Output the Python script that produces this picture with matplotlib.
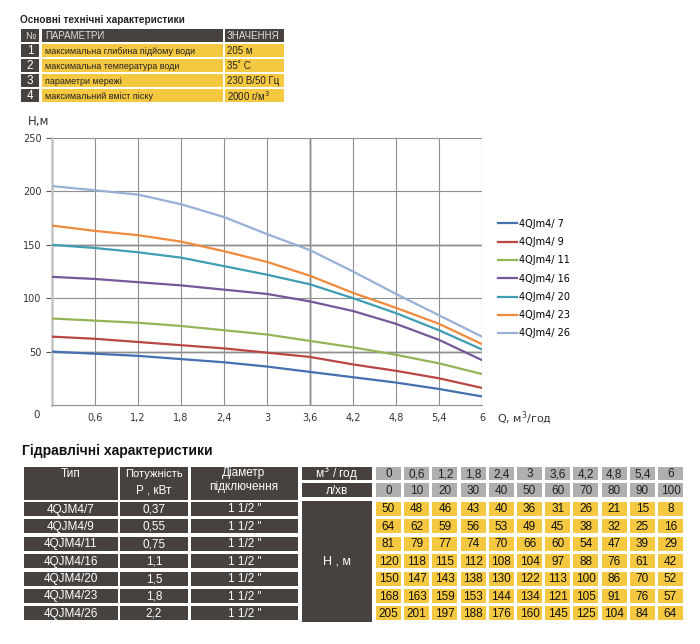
import matplotlib.pyplot as plt
from matplotlib.patches import Rectangle

# --- data ---
flow_m3h = [0, 0.6, 1.2, 1.8, 2.4, 3, 3.6, 4.2, 4.8, 5.4, 6]
flow_lmin = [0, 10, 20, 30, 40, 50, 60, 70, 80, 90, 100]
flow_m3h_labels = ['0', '0,6', '1,2', '1,8', '2,4', '3', '3,6', '4,2', '4,8', '5,4', '6']

models = ['4QJM4/7', '4QJM4/9', '4QJM4/11', '4QJM4/16', '4QJM4/20', '4QJM4/23', '4QJM4/26']
legend_labels = ['4QJm4/ 7', '4QJm4/ 9', '4QJm4/ 11', '4QJm4/ 16', '4QJm4/ 20', '4QJm4/ 23', '4QJm4/ 26']
power_kw = ['0,37', '0,55', '0,75', '1,1', '1,5', '1,8', '2,2']
diameter = ['1 1/2 "'] * 7

head_7 = [50, 48, 46, 43, 40, 36, 31, 26, 21, 15, 8]
head_9 = [64, 62, 59, 56, 53, 49, 45, 38, 32, 25, 16]
head_11 = [81, 79, 77, 74, 70, 66, 60, 54, 47, 39, 29]
head_16 = [120, 118, 115, 112, 108, 104, 97, 88, 76, 61, 42]
head_20 = [150, 147, 143, 138, 130, 122, 113, 100, 86, 70, 52]
head_23 = [168, 163, 159, 153, 144, 134, 121, 105, 91, 76, 57]
head_26 = [205, 201, 197, 188, 176, 160, 145, 125, 104, 84, 64]
heads = [head_7, head_9, head_11, head_16, head_20, head_23, head_26]

param_names = ['максимальна глибина підйому води', 'максимальна температура води',
               'параметри мережі', 'максимальний вміст піску']
param_values = ['205 м', '35˚ C', '230 В/50 Гц', '2000 г/м$^3$']

colors = ['#4470b0', '#b84744', '#93b555', '#76589a', '#3f9db4', '#f08a3c', '#98afd6']

DARK = '#47423d'
YELLOW = '#f5c842'
GREY = '#b1afae'
TFONT = ['Liberation Sans', 'DejaVu Sans']

fig = plt.figure(figsize=(7, 6.44), dpi=100)

# overlay in pixel coordinates for the tables
ov = fig.add_axes([0, 0, 1, 1])
ov.set_xlim(0, 700)
ov.set_ylim(644, 0)
ov.axis('off')


def cell(x0, y0, x1, y1, color, text='', tcolor='white', size=8, ha='center', pad=3, **kw):
    ov.add_patch(Rectangle((x0, y0), x1 - x0, y1 - y0, facecolor=color, edgecolor='none'))
    if text:
        tx = (x0 + x1) / 2 if ha == 'center' else x0 + pad
        ov.text(tx, (y0 + y1) / 2 + 0.5, text, ha=ha, va='center', color=tcolor,
                fontsize=size, family=TFONT, **kw)


def label(x, y, text, size=8, color='white', **kw):
    ov.text(x, y, text, ha='center', va='center', color=color, fontsize=size, family=TFONT, **kw)


# --- top table ---
ov.text(20, 20, 'Основні технічні характеристики', fontsize=7.2, fontweight='bold',
        family=TFONT, color='#222222', va='center')
cell(21, 29, 39, 42, DARK, '№', '#dddddd', 7)
cell(42, 29, 223, 42, DARK, 'ПАРАМЕТРИ', '#dddddd', 7, ha='left')
cell(225, 29, 284, 42, DARK, 'ЗНАЧЕННЯ', '#dddddd', 7, ha='left', pad=2)
for i, (name, val) in enumerate(zip(param_names, param_values)):
    y0 = 44 + i * 15
    cell(21, y0, 39, y0 + 13, DARK, str(i + 1), 'white', 8.5)
    cell(42, y0, 223, y0 + 13, YELLOW, name, '#222222', 6.5, ha='left')
    cell(225, y0, 284, y0 + 13, YELLOW, val, '#222222', 7, ha='left', pad=2)

# --- bottom table ---
ov.text(22, 451, 'Гідравлічні характеристики', fontsize=10, fontweight='bold',
        family=TFONT, color='#111111', va='center')
for x0, x1 in [(24, 118), (120, 188), (191, 298)]:
    cell(x0, 467, x1, 500, DARK)
label(71, 474, 'Тип', 8.5)
label(154, 474, 'Потужність', 8)
label(154, 490, 'P , кВт', 8.5)
label(244, 473, 'Діаметр', 8.5)
label(244, 487, 'підключення', 8.5)
cell(302, 467, 372, 480, DARK, 'м$^3$ / год', 'white', 8.5)
cell(302, 483, 372, 497, DARK, 'л/хв', 'white', 8.5)
cell(302, 501, 372, 622, DARK, 'H , м', 'white', 9)

pitch = 28.2
for j in range(len(flow_m3h)):
    x0 = 376 + j * pitch
    cell(x0, 467, x0 + 25, 480, GREY, flow_m3h_labels[j], '#222222', 8.5)
    cell(x0, 483, x0 + 25, 497, GREY, str(flow_lmin[j]), '#222222', 8.5)

for i in range(len(models)):
    y0 = 502 + i * 17.4
    cell(24, y0, 118, y0 + 14, DARK, models[i], 'white', 8.5)
    cell(120, y0, 188, y0 + 14, DARK, power_kw[i], 'white', 8.5)
    cell(191, y0, 298, y0 + 14, DARK, diameter[i], 'white', 8.5)
    for j, h in enumerate(heads[i]):
        x0 = 376 + j * pitch
        cell(x0, y0, x0 + 25, y0 + 14, YELLOW, str(h), '#111111', 8.5)

# --- chart ---
ax = fig.add_axes([52 / 700, 1 - 405 / 644, 430 / 700, 267 / 644])
ax.set_xlim(0, 6)
ax.set_ylim(0, 250)
ax.set_facecolor('none')
ax.set_xticks(flow_m3h[1:])
ax.set_xticklabels(flow_m3h_labels[1:])
ax.set_yticks([50, 100, 150, 200, 250])
ax.set_yticklabels(['50', '100', '150', '200', '250'])
ax.tick_params(axis='both', labelsize=7, colors='#555555', labelcolor='#333333', length=4, width=0.8)
ax.tick_params(axis='x', length=0, pad=6)
ax.grid(True, color='#8f8f8f', linewidth=0.8)
for v in [150, 50]:
    ax.axhline(v, color='#cccccc', linewidth=1.8, zorder=1)
ax.axvline(3.6, color='#c4c4c4', linewidth=1.8, zorder=1)
for s in ['top', 'right']:
    ax.spines[s].set_visible(False)
ax.spines['left'].set_color('#c4c4c4')
ax.spines['left'].set_linewidth(1.8)
ax.spines['bottom'].set_color('#8f8f8f')
ax.spines['bottom'].set_linewidth(0.8)

for h, c, lab in zip(heads, colors, legend_labels):
    ax.plot(flow_m3h, h, color=c, linewidth=1.6, label=lab, zorder=3)

ax.text(-0.22, -9, '0', ha='center', va='center', fontsize=7.5, color='#333333')
fig.text(28 / 700, 1 - 122 / 644, 'H,м', fontsize=8.5, color='#333333', va='center')
fig.text(497 / 700, 1 - 418 / 644, 'Q, м$^3$/год', fontsize=8, color='#333333', va='center')

ax.legend(loc='upper left', bbox_to_anchor=(494 / 700, 1 - 215 / 644),
          bbox_transform=fig.transFigure, frameon=False, fontsize=7,
          handlelength=2.0, handletextpad=0.2, labelspacing=0.85, borderaxespad=0)

fig.savefig('out.png', dpi=100)
